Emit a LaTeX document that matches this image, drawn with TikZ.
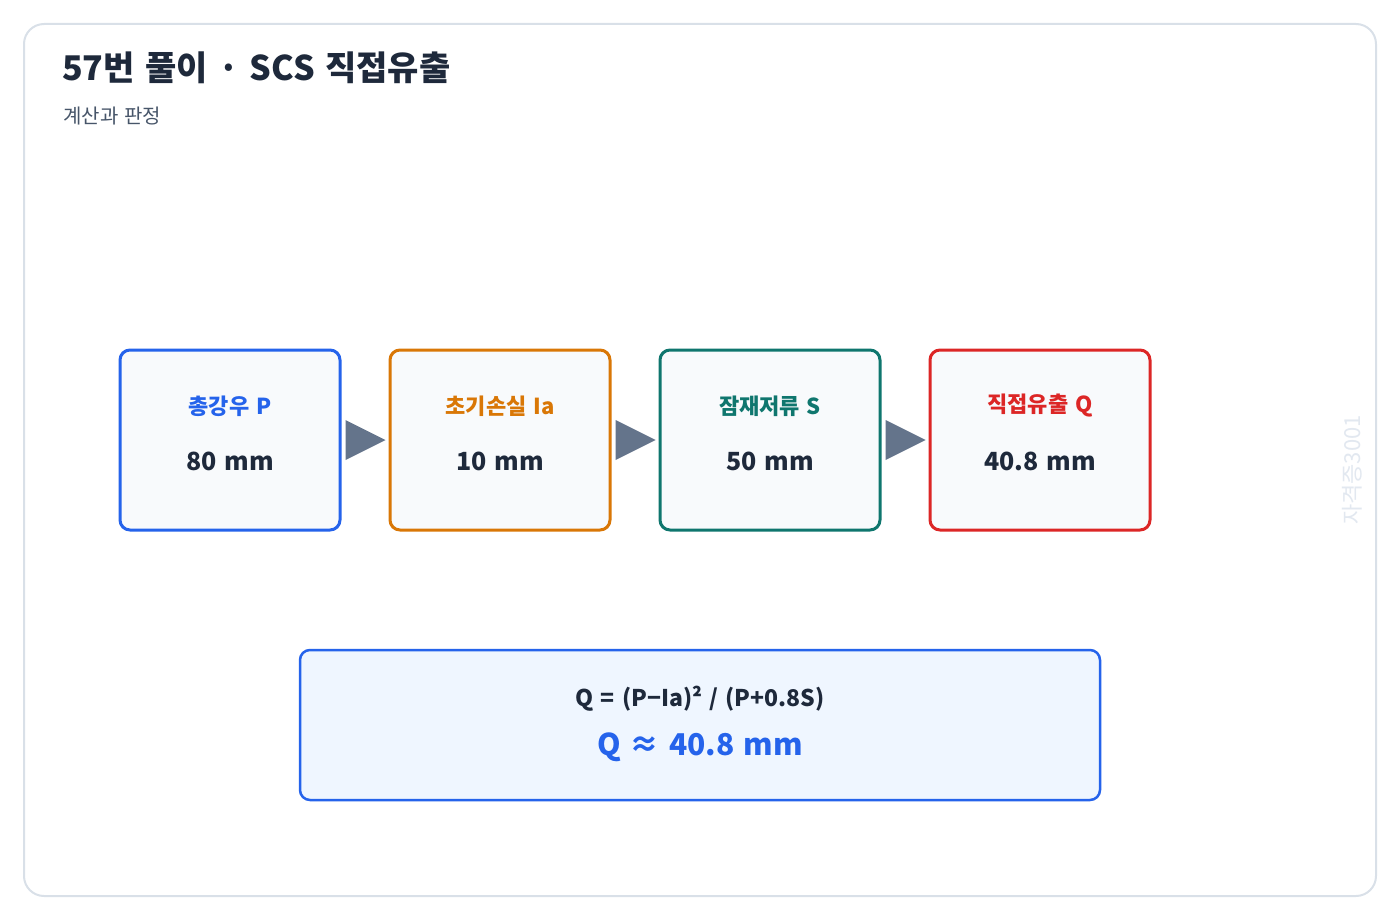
\documentclass[tikz,border=0pt]{standalone}
\usepackage{fontspec}
\setmainfont[WordSpace=1.35]{Noto Sans CJK KR}
\usepackage{tikz}
\usetikzlibrary{calc,positioning}
\definecolor{frameline}{HTML}{D9E0E8}
\definecolor{boxfill}{HTML}{F8FAFC}
\definecolor{cblue}{HTML}{2563EB}
\definecolor{corange}{HTML}{D97706}
\definecolor{cteal}{HTML}{0F766E}
\definecolor{cred}{HTML}{DC2626}
\definecolor{ink}{HTML}{1E293B}
\definecolor{subgray}{HTML}{475569}
\definecolor{arrowgray}{HTML}{64748B}
\definecolor{formfill}{HTML}{EFF6FF}
\definecolor{wmark}{HTML}{E2E8F0}
\newcommand{\fsz}[1]{\fontsize{#1}{#1}\selectfont}

\begin{document}
\begin{tikzpicture}[x=1pt,y=-1pt,
  stage/.style={draw=#1,line width=3pt,fill=boxfill,rounded corners=10pt,minimum width=220pt,minimum height=180pt,inner sep=0pt},
  lbl/.style={font=\fsz{22}\bfseries,text=#1},
  val/.style={font=\fsz{25}\bfseries,text=ink},
  tri/.style={fill=arrowgray}]
\useasboundingbox (0,0) rectangle (1400,920);
\draw[frameline,line width=2pt,fill=white,rounded corners=20pt] (24,24) rectangle (1376,896);
% title
\node[anchor=west,font=\fsz{34}\bfseries,text=ink,inner sep=0pt] (title) at (62,68) {57번 풀이 · SCS 직접유출};
\node[anchor=west,font=\fsz{20},text=subgray,inner sep=0pt] (sub) at (63,116) {계산과 판정};
% stages
\node[stage=cblue] (p) at (230,440) {};
\node[stage=corange] (ia) at (500,440) {};
\node[stage=cteal] (s) at (770,440) {};
\node[stage=cred] (q) at (1040,440) {};
\node[lbl=cblue] at ($(p)+(0,-34)$) {총강우 P};
\node[val] at ($(p)+(0,21)$) {80 mm};
\node[lbl=corange] at ($(ia)+(0,-34)$) {초기손실 Ia};
\node[val] at ($(ia)+(0,21)$) {10 mm};
\node[lbl=cteal] at ($(s)+(0,-34)$) {잠재저류 S};
\node[val] at ($(s)+(0,21)$) {50 mm};
\node[lbl=cred] at ($(q)+(0,-34)$) {직접유출 Q};
\node[val] at ($(q)+(0,21)$) {40.8 mm};
% arrows
\foreach \a in {p,ia,s}
  \fill[tri] ($(\a.east)+(4,-20)$) -- ($(\a.east)+(44,0)$) -- ($(\a.east)+(4,20)$) -- cycle;
% formula
\node[draw=cblue,line width=2.5pt,fill=formfill,rounded corners=10pt,minimum width=800pt,minimum height=150pt] (form) at (700,725) {};
\node[font=\fsz{23}\bfseries,text=ink] at ($(form)+(0,-26)$) {Q = (P−Ia)² / (P+0.8S)};
\node[font=\fsz{30}\bfseries,text=cblue] at ($(form)+(0,22)$) {Q ≈ 40.8 mm};
% watermark
\node[rotate=90,font=\fsz{22},text=wmark] (wm) at (1352,470) {자격증3001};
\end{tikzpicture}
\end{document}
